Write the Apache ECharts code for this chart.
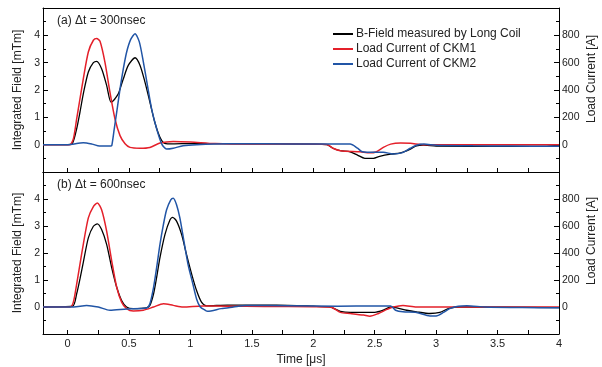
<!DOCTYPE html>
<html><head><meta charset="utf-8">
<script src="https://cdn.jsdelivr.net/npm/echarts@6/dist/echarts.min.js"></script>
<style>html,body{margin:0;padding:0;background:#fff}#c{width:602px;height:367px}</style>
</head><body><div id="c"></div>
<script>
// ---------- tick labels ----------
const xTickValues = [0,0.25,0.5,0.75,1,1.25,1.5,1.75,2,2.25,2.5,2.75,3,3.25,3.5,3.75,4];
const xLabelValues = [0,0.5,1,1.5,2,2.5,3,3.5,4];
const seriesNames = ['B-Field measured by Long Coil','Load Current of CKM1','Load Current of CKM2'];

// ---------- panel (a) dt = 300 ns ----------
// B-field [mTm]
const tA_field = [-0.2,0,0.04,0.074,0.101,0.128,0.169,0.21,0.237,0.277,0.318,0.353,0.37,0.386,0.413,0.454,0.494,0.549,0.59,0.63,0.67,0.71,0.752,0.79,0.86,1.0,1.5,2.0,2.11,2.16,2.22,2.3,2.36,2.42,2.49,2.54,2.63,2.71,2.79,2.84,2.9,3.0,3.5,3.9,4.0];
const vA_field = [0,0,0.05,0.58,1.19,1.86,2.66,3.0,3.05,2.78,2.17,1.56,1.6,1.68,1.86,2.41,2.9,3.18,2.9,2.29,1.56,0.82,0.27,0.05,0.03,0.04,0.03,0.02,0,-0.13,-0.22,-0.26,-0.38,-0.5,-0.5,-0.43,-0.35,-0.3,-0.16,-0.04,-0.02,-0.05,-0.06,-0.06,-0.03];
// CKM1 current [A]
const tA_ckm1 = [-0.2,0,0.02,0.047,0.074,0.101,0.128,0.169,0.21,0.237,0.264,0.304,0.345,0.386,0.427,0.468,0.508,0.59,0.67,0.752,0.86,1.0,1.2,1.5,1.8,2.11,2.16,2.22,2.38,2.46,2.51,2.57,2.63,2.71,2.79,2.9,3.2,3.6,4.0];
const vA_ckm1 = [0,0,0,42,188,336,482,678,764,776,756,604,384,188,66,6,-20,-26,-20,12,24,20,8,4,4,2,-26,-44,-52,-60,-54,-20,4,12,10,0,0,0,0];
// CKM2 current [A]
const tA_ckm2 = [-0.2,0,0.128,0.2,0.26,0.35,0.36,0.38,0.40,0.427,0.454,0.481,0.514,0.549,0.584,0.617,0.65,0.684,0.725,0.766,0.806,0.86,0.94,1.05,1.3,1.6,2.0,2.3,2.36,2.4,2.49,2.57,2.65,2.72,2.79,2.84,2.9,3.0,3.3,3.6,4.0];
const vA_ckm2 = [0,0,14,4,-10,-10,-6,116,238,408,556,678,770,812,752,604,434,262,116,6,-32,-26,-8,0,6,6,4,4,-26,-52,-56,-56,-68,-60,-26,-4,4,-4,-8,-10,-12];

// ---------- panel (b) dt = 600 ns ----------
const tB_field = [-0.2,0.04,0.074,0.101,0.128,0.169,0.21,0.242,0.277,0.318,0.359,0.40,0.44,0.48,0.535,0.643,0.67,0.70,0.725,0.752,0.793,0.834,0.855,0.887,0.928,0.968,1.01,1.05,1.09,1.13,1.3,1.7,2.0,2.14,2.17,2.22,2.3,2.5,2.57,2.63,2.68,2.76,2.84,2.95,3.03,3.11,3.2,4.0];
const vB_field = [0,0.03,0.49,1.04,1.65,2.56,2.99,3.08,2.87,2.32,1.46,0.73,0.24,0,-0.06,-0.03,0.06,0.49,1.1,1.83,2.69,3.23,3.32,3.18,2.69,1.95,1.22,0.61,0.18,0.04,0.07,0.07,0.03,0,-0.06,-0.16,-0.2,-0.2,-0.12,0,-0.03,-0.12,-0.18,-0.24,-0.2,-0.04,0,-0.02];
const tB_ckm1 = [-0.2,0.02,0.047,0.074,0.101,0.128,0.169,0.21,0.242,0.277,0.318,0.359,0.40,0.44,0.48,0.535,0.617,0.70,0.78,0.86,0.94,1.1,1.3,1.6,2.0,2.14,2.22,2.30,2.41,2.46,2.53,2.6,2.65,2.73,2.84,3.2,4.0];
const vB_ckm1 = [0,0,36,170,318,464,660,744,770,720,562,342,146,36,-12,-30,-24,0,24,12,0,8,6,4,2,0,-40,-48,-60,-68,-48,-18,0,12,0,0,0];
const tB_ckm2 = [-0.2,0.05,0.155,0.25,0.345,0.48,0.643,0.67,0.70,0.725,0.752,0.78,0.806,0.84,0.86,0.887,0.914,0.947,0.98,1.02,1.05,1.08,1.12,1.14,1.25,1.35,1.45,1.8,2.2,2.5,2.63,2.67,2.73,2.84,2.95,3.0,3.06,3.11,3.18,3.25,3.4,3.7,4.0];
const vB_ckm2 = [0,0,12,0,-24,-14,-8,24,146,292,464,610,720,794,806,758,660,488,318,170,60,0,-24,-32,-12,0,12,10,6,8,8,-24,-36,-40,-66,-66,-40,-12,6,10,0,-4,-6];

const FONT = "'Liberation Sans', Arial, sans-serif";
const TXT = '#222';
const pairs = (t, v) => t.map((x, i) => [x, v[i]]);

function xBottom(grid, showLabels) {
  return {
    type: 'value', gridIndex: grid, position: 'bottom', min: -0.2, max: 4,
    axisLine: { show: true, onZero: false, lineStyle: { color: '#000', width: 1 } },
    axisTick: { show: true, inside: true, length: 4, customValues: xTickValues, lineStyle: { color: '#000' } },
    axisLabel: showLabels ? { show: true, customValues: xLabelValues, color: TXT, fontSize: 11, fontFamily: FONT, margin: 4 } : { show: false },
    splitLine: { show: false }
  };
}
function xTop(grid) {
  return {
    type: 'value', gridIndex: grid, position: 'top', min: -0.2, max: 4,
    axisLine: { show: true, onZero: false, lineStyle: { color: '#000', width: 1 } },
    axisTick: { show: false }, axisLabel: { show: false }, splitLine: { show: false }
  };
}
function yLeft(grid) {
  return {
    type: 'value', gridIndex: grid, position: 'left', min: -1, max: 5, interval: 1,
    axisLine: { show: true, onZero: false, lineStyle: { color: '#000', width: 1 } },
    axisTick: { show: true, inside: true, length: 5, lineStyle: { color: '#000' } },
    minorTick: { show: true, splitNumber: 2, length: 3, lineStyle: { color: '#000' } },
    axisLabel: { color: TXT, fontSize: 10.5, fontFamily: FONT, margin: 3, formatter: v => (v < 0 || v > 4) ? '' : String(v) },
    splitLine: { show: false }
  };
}
function yRight(grid) {
  return {
    type: 'value', gridIndex: grid, position: 'right', min: -200, max: 1000, interval: 200,
    axisLine: { show: true, onZero: false, lineStyle: { color: '#000', width: 1 } },
    axisTick: { show: true, inside: true, length: 5, lineStyle: { color: '#000' } },
    minorTick: { show: true, splitNumber: 2, length: 3, lineStyle: { color: '#000' } },
    axisLabel: { color: TXT, fontSize: 10.5, fontFamily: FONT, margin: 3, formatter: v => (v < 0 || v > 800) ? '' : String(v) },
    splitLine: { show: false }
  };
}
function line(name, xi, yi, data, color, width) {
  return {
    name, type: 'line', xAxisIndex: xi, yAxisIndex: yi, data, showSymbol: false,
    smooth: 0.25, lineStyle: { color, width }, itemStyle: { color }, animation: false
  };
}
function txt(x, y, text, rot, align) {
  return {
    type: 'text', x, y, rotation: rot || 0, silent: true,
    style: { text, fill: TXT, font: '12px ' + FONT, textAlign: align || 'center', textVerticalAlign: 'middle' }
  };
}

const chart = echarts.init(document.getElementById('c'), null, { renderer: 'canvas' });
chart.setOption({
  animation: false,
  backgroundColor: '#fff',
  grid: [
    { left: 43, right: 43, top: 8, height: 164 },
    { left: 43, right: 43, top: 172, height: 162 }
  ],
  xAxis: [xBottom(0, false), xTop(0), xBottom(1, true), xTop(1)],
  yAxis: [yLeft(0), yRight(0), yLeft(1), yRight(1)],
  legend: {
    data: seriesNames, orient: 'vertical', left: 328, top: 23, itemWidth: 20, itemHeight: 2,
    itemGap: 3, icon: 'rect', textStyle: { color: TXT, fontSize: 12, fontFamily: FONT, padding: [0, 0, 0, -2] }
  },
  graphic: [
    txt(18, 90, 'Integrated Field [mTm]', Math.PI / 2),
    txt(18, 253, 'Integrated Field [mTm]', Math.PI / 2),
    txt(592, 79, 'Load Current [A]', Math.PI / 2),
    txt(592, 241, 'Load Current [A]', Math.PI / 2),
    txt(301, 360, 'Time [μs]'),
    txt(57, 21, '(a) Δt = 300nsec', 0, 'left'),
    txt(57, 185, '(b) Δt = 600nsec', 0, 'left')
  ],
  series: [
    line(seriesNames[0], 0, 0, pairs(tA_field, vA_field), '#000000', 1.3),
    line(seriesNames[1], 0, 1, pairs(tA_ckm1, vA_ckm1), '#e4202a', 1.5),
    line(seriesNames[2], 0, 1, pairs(tA_ckm2, vA_ckm2), '#2155a6', 1.5),
    line(seriesNames[0], 2, 2, pairs(tB_field, vB_field), '#000000', 1.3),
    line(seriesNames[1], 2, 3, pairs(tB_ckm1, vB_ckm1), '#e4202a', 1.5),
    line(seriesNames[2], 2, 3, pairs(tB_ckm2, vB_ckm2), '#2155a6', 1.5)
  ]
});
</script></body></html>
